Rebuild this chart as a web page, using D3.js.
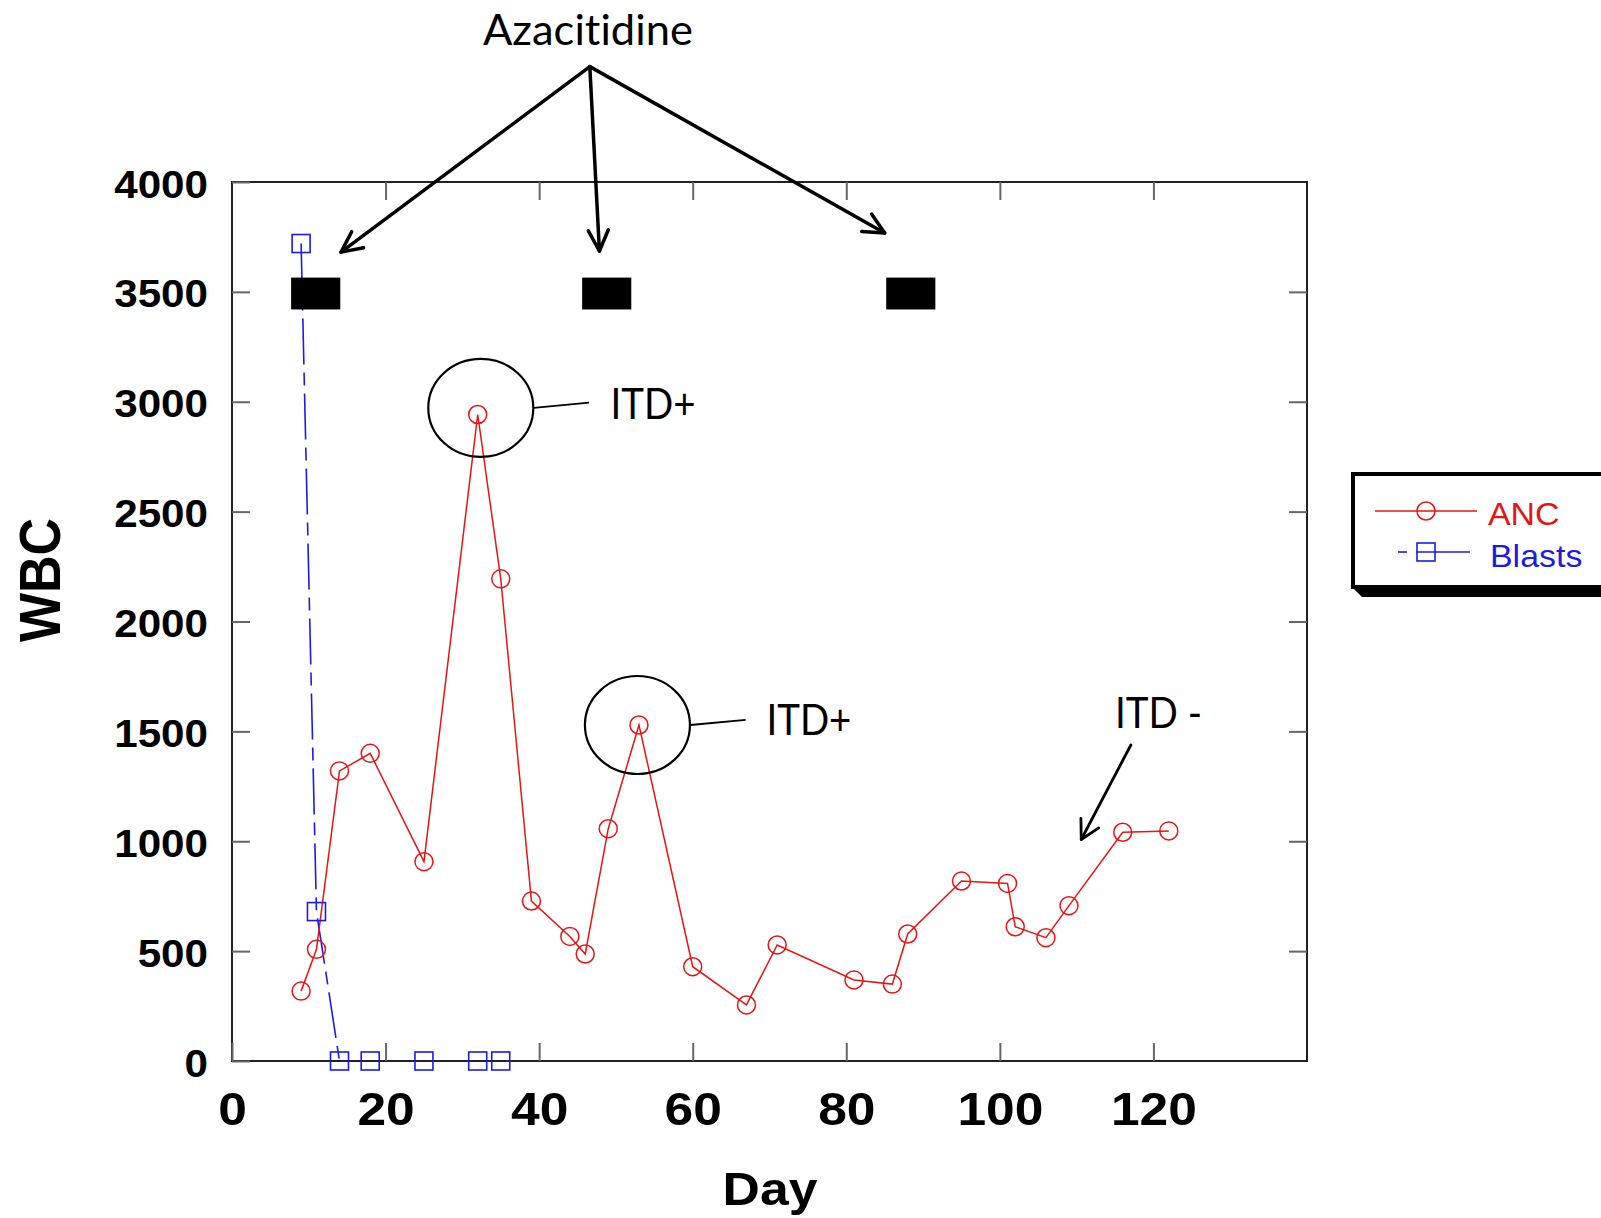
<!DOCTYPE html>
<html><head><meta charset="utf-8">
<script src="https://cdn.jsdelivr.net/npm/d3@7"></script>
<style>body{margin:0;background:#fff} svg{display:block}</style>
</head><body><svg id="chart" width="1601" height="1218"></svg>
<script>
// ---- data ----
const ancDays   = [9, 11, 14, 18, 25, 32, 35, 39, 44, 46, 49, 53, 60, 67, 71, 81, 86, 88, 95, 101, 102, 106, 109, 116, 122];
const ancValues = [318, 508, 1320, 1400, 907, 2942, 2194, 728, 567, 487, 1057, 1529, 429, 255, 528, 369, 350, 578, 819, 808, 611, 561, 707, 1041, 1047];
const blastDays   = [9, 11, 14, 18, 25, 32, 35];
const blastValues = [3720, 680, 0, 0, 0, 0, 0];
const txStartDays = [7.7, 45.6, 85.2];
const txEndDays   = [14.1, 52.0, 91.6];
const txLow = 3420, txHigh = 3565;
const xTickValues = [0, 20, 40, 60, 80, 100, 120];
const xMinorTicks = [20, 40, 60, 80, 100, 120];
const yTickValues = [0, 500, 1000, 1500, 2000, 2500, 3000, 3500, 4000];
// annotation anchors (data units)
const azaLabel = {day: 46.35, value: 4623, text: "Azacitidine"};
const azaApex = {day: 46.6, value: 4525};
const azaTargetDays = [14.2, 47.85, 85.0];
const azaTargetValues = [3681, 3686, 3768];
const itdCircleDays = [32.4, 52.8];
const itdCircleValues = [2972, 1529];
const itdLeaderEndDays = [46.5, 66.9];
const itdLeaderEndValues = [2996, 1552];
const itdTextDays = [49.3, 69.6];
const itdTextValues = [2922, 1483];
const itdLabels = ["ITD+", "ITD+"];
const itdNeg = {text: "ITD -", day: 115.0, value: 1517, arrowFromDay: 117.06, arrowFromValue: 1438, arrowToDay: 110.6, arrowToValue: 1008};

const RED = "#e41515", BLUE = "#1c1ce0";
const svg = d3.select("#chart");
const x = d3.scaleLinear().domain([0, 140]).range([232, 1307]);
const y = d3.scaleLinear().domain([0, 4000]).range([1061, 182]);
const numFont = "'Liberation Sans', Arial, sans-serif";

// ---- series lines ----
const anc = ancDays.map((d, i) => ({d, v: ancValues[i]}));
const blasts = blastDays.map((d, i) => ({d, v: blastValues[i]}));
const line = d3.line().x(p => x(p.d)).y(p => y(p.v));

svg.append("path").datum(blasts).attr("d", line)
  .attr("fill", "none").attr("stroke", BLUE).attr("stroke-width", 1.6)
  .attr("stroke-dasharray", "46,8,13,8");
svg.append("path").datum(anc).attr("d", line)
  .attr("fill", "none").attr("stroke", RED).attr("stroke-width", 1.5);

// ---- frame & axes ----
svg.append("rect").attr("x", x(0)).attr("y", y(4000))
  .attr("width", x(140) - x(0)).attr("height", y(0) - y(4000))
  .attr("fill", "none").attr("stroke", "#222").attr("stroke-width", 2);

function styleTicks(g) {
  g.select(".domain").remove();
  g.selectAll(".tick line").attr("stroke", "#666").attr("stroke-width", 2);
}
const gx = svg.append("g").attr("transform", `translate(0,${y(0)})`)
  .call(d3.axisBottom(x).tickValues(xTickValues).tickSizeInner(-18).tickSizeOuter(0).tickFormat(d3.format("d")));
styleTicks(gx);
gx.selectAll(".tick text").attr("y", 0).attr("dy", null)
  .attr("transform", "translate(0,64) scale(1.12,1)")
  .attr("fill", "#000").style("font", `bold 46px ${numFont}`);

const gxt = svg.append("g").attr("transform", `translate(0,${y(4000)})`)
  .call(d3.axisTop(x).tickValues(xMinorTicks).tickSizeInner(-18).tickSizeOuter(0));
styleTicks(gxt); gxt.selectAll(".tick text").remove();

const gy = svg.append("g").attr("transform", `translate(${x(0)},0)`)
  .call(d3.axisLeft(y).tickValues(yTickValues).tickSizeInner(-18).tickSizeOuter(0).tickFormat(d3.format("d")));
styleTicks(gy);
gy.selectAll(".tick text").attr("x", 0).attr("dy", null)
  .attr("transform", "translate(-24,15) scale(1.11,1)")
  .attr("text-anchor", "end").attr("fill", "#000").style("font", `bold 38px ${numFont}`);

const gyr = svg.append("g").attr("transform", `translate(${x(140)},0)`)
  .call(d3.axisRight(y).tickValues(yTickValues.slice(1, -1)).tickSizeInner(-18).tickSizeOuter(0));
styleTicks(gyr); gyr.selectAll(".tick text").remove();

// axis titles
svg.append("text").attr("transform", "translate(770,1205) scale(1.1,1)")
  .attr("text-anchor", "middle").style("font", `bold 47px ${numFont}`).text("Day");
svg.append("text").attr("transform", "translate(60,580) scale(1.1,1) rotate(-90)")
  .attr("text-anchor", "middle").style("font", `bold 52px ${numFont}`).text("WBC");

// ---- treatment bars ----
svg.selectAll("rect.tx").data(txStartDays).join("rect").attr("class", "tx")
  .attr("x", d => x(d)).attr("y", y(txHigh))
  .attr("width", (d, i) => x(txEndDays[i]) - x(d)).attr("height", y(txLow) - y(txHigh))
  .attr("fill", "#000");

// ---- markers ----
svg.selectAll("circle.anc").data(anc).join("circle").attr("class", "anc")
  .attr("cx", p => x(p.d)).attr("cy", p => y(p.v)).attr("r", 9)
  .attr("fill", "none").attr("stroke", RED).attr("stroke-width", 1.5);
svg.selectAll("rect.bl").data(blasts).join("rect").attr("class", "bl")
  .attr("x", p => x(p.d) - 9).attr("y", p => y(p.v) - 9).attr("width", 18).attr("height", 18)
  .attr("fill", "none").attr("stroke", BLUE).attr("stroke-width", 1.6);

// ---- annotations ----
function arrow(x1, y1, x2, y2, len, ang, w) {
  const g = svg.append("g").attr("stroke", "#000").attr("stroke-width", w)
    .attr("fill", "none").attr("stroke-linecap", "round").attr("stroke-linejoin", "round");
  g.append("line").attr("x1", x1).attr("y1", y1).attr("x2", x2).attr("y2", y2);
  const a = Math.atan2(y1 - y2, x1 - x2);
  const p1 = [x2 + len * Math.cos(a + ang), y2 + len * Math.sin(a + ang)];
  const p2 = [x2 + len * Math.cos(a - ang), y2 + len * Math.sin(a - ang)];
  g.append("path").attr("d", `M${p1}L${x2},${y2}L${p2}`);
}
const calib = "Lato, 'Open Sans', sans-serif";
svg.append("text").attr("x", x(azaLabel.day)).attr("y", y(azaLabel.value))
  .attr("text-anchor", "middle").attr("textLength", 210).attr("lengthAdjust", "spacingAndGlyphs")
  .style("font", `42px ${calib}`).style("font-variant-ligatures", "none").text(azaLabel.text);
azaTargetDays.forEach((d, i) => arrow(x(azaApex.day), y(azaApex.value), x(d), y(azaTargetValues[i]), 23, 0.45, 3.5));

itdCircleDays.forEach((d, i) => {
  const cx = x(d), cy = y(itdCircleValues[i]);
  svg.append("ellipse").attr("cx", cx).attr("cy", cy).attr("rx", 52.5).attr("ry", 49)
    .attr("fill", "none").attr("stroke", "#000").attr("stroke-width", 2.2);
  svg.append("line").attr("x1", cx + 53).attr("y1", cy)
    .attr("x2", x(itdLeaderEndDays[i])).attr("y2", y(itdLeaderEndValues[i]))
    .attr("stroke", "#000").attr("stroke-width", 1.8);
  svg.append("text").attr("x", x(itdTextDays[i])).attr("y", y(itdTextValues[i]))
    .attr("textLength", 85).attr("lengthAdjust", "spacingAndGlyphs")
    .style("font", `42px ${calib}`).text(itdLabels[i]);
});
svg.append("text").attr("x", x(itdNeg.day)).attr("y", y(itdNeg.value))
  .attr("textLength", 87).attr("lengthAdjust", "spacingAndGlyphs")
  .style("font", `42px ${calib}`).text(itdNeg.text);
arrow(x(itdNeg.arrowFromDay), y(itdNeg.arrowFromValue), x(itdNeg.arrowToDay), y(itdNeg.arrowToValue), 21, 0.5, 2.8);

// ---- legend ----
const lg = svg.append("g");
lg.append("polygon").attr("points", "1351,586 1362,597 1640,597 1640,586").attr("fill", "#000");
lg.append("rect").attr("x", 1353).attr("y", 474).attr("width", 300).attr("height", 113)
  .attr("fill", "#fff").attr("stroke", "#000").attr("stroke-width", 4);
lg.append("line").attr("x1", 1375).attr("x2", 1477).attr("y1", 511).attr("y2", 511)
  .attr("stroke", RED).attr("stroke-width", 1.5);
lg.append("circle").attr("cx", 1426).attr("cy", 511).attr("r", 9)
  .attr("fill", "none").attr("stroke", RED).attr("stroke-width", 1.5);
lg.append("text").attr("transform", "translate(1488,525) scale(1.06,1)")
  .attr("fill", RED).style("font", `32px ${numFont}`).text("ANC");
lg.append("line").attr("x1", 1398).attr("x2", 1407).attr("y1", 552).attr("y2", 552)
  .attr("stroke", BLUE).attr("stroke-width", 1.6);
lg.append("line").attr("x1", 1416).attr("x2", 1470).attr("y1", 552).attr("y2", 552)
  .attr("stroke", BLUE).attr("stroke-width", 1.6);
lg.append("rect").attr("x", 1417).attr("y", 543).attr("width", 18).attr("height", 18)
  .attr("fill", "none").attr("stroke", BLUE).attr("stroke-width", 1.6);
lg.append("text").attr("transform", "translate(1490,567) scale(1.06,1)")
  .attr("fill", BLUE).style("font", `32px ${numFont}`).text("Blasts");
</script></body></html>
